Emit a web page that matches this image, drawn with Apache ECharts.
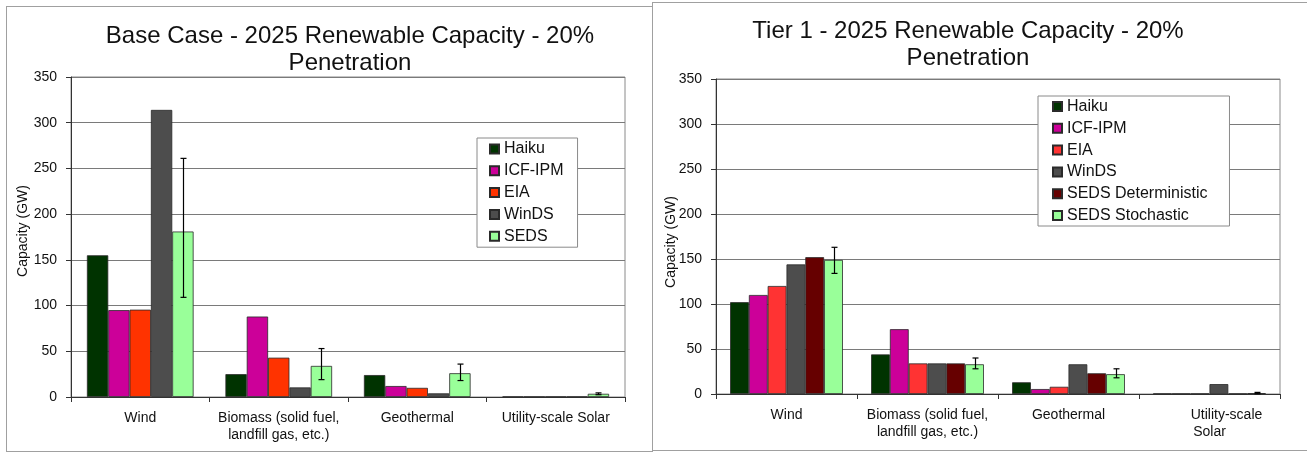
<!DOCTYPE html>
<html>
<head>
<meta charset="utf-8">
<script src="https://cdn.jsdelivr.net/npm/echarts@6/dist/echarts.min.js"></script>
<style>
html,body{margin:0;padding:0;width:1307px;height:454px;overflow:hidden;background:#fff;}
.frame{position:absolute;box-sizing:border-box;border:1px solid #a0a0a0;}
.chart{position:absolute;top:0;height:454px;}
</style>
</head>
<body>
<div class="frame" style="left:6px;top:6px;width:647px;height:446px;"></div>
<div class="frame" style="left:652px;top:2px;width:670px;height:449px;"></div>
<div id="c1" class="chart" style="left:0;width:652px;"></div>
<div id="c2" class="chart" style="left:652px;width:655px;"></div>
<script>
// ---- Data ----
const categoriesBase = ['Wind', 'Biomass (solid fuel,\nlandfill gas, etc.)', 'Geothermal', 'Utility-scale Solar'];
const categoriesTier = ['Wind', 'Biomass (solid fuel,\nlandfill gas, etc.)', 'Geothermal', '{pad|Utility-scale}\nSolar'];
const yTicks = [0, 50, 100, 150, 200, 250, 300, 350];
const yAxisTitle = 'Capacity (GW)';

const seriesNamesBase = ['Haiku', 'ICF-IPM', 'EIA', 'WinDS', 'SEDS'];
const baseHaiku = [155, 25, 24, 0.4];
const baseICF = [95, 88, 12, 0.4];
const baseEIA = [95.5, 43, 10, 0.4];
const baseWinDS = [314, 10.5, 4, 0.4];
const baseSEDS = [181, 34, 26, 3.5];
const baseSEDSLow = [109, 19, 18, 2.5];
const baseSEDSHigh = [261, 53, 36, 4.5];

const seriesNamesTier = ['Haiku', 'ICF-IPM', 'EIA', 'WinDS', 'SEDS Deterministic', 'SEDS Stochastic'];
const tierHaiku = [102, 44, 13, 0.4];
const tierICF = [110, 72, 5.5, 0.4];
const tierEIA = [120, 34, 8, 0.4];
const tierWinDS = [144, 34, 33, 11];
const tierSEDSDet = [152, 34, 23, 0.4];
const tierSEDSSto = [149, 33, 22, 1];
const tierStoLow = [134, 28, 18, 0.3];
const tierStoHigh = [163, 40, 28, 1.8];

// ---- Styles ----
const FONT = '"Liberation Sans", Arial, sans-serif';
const colorsBase = ['#003300', '#CC0099', '#FF3300', '#4D4D4D', '#99FF99'];
const colorsTier = ['#003300', '#CC0099', '#FF3333', '#4D4D4D', '#660000', '#99FF99'];

function errRender(nBars, gapFrac, idx) {
  return function (params, api) {
    const cat = api.value(0), lo = api.value(1), hi = api.value(2);
    const pLo = api.coord([cat, lo]);
    const pHi = api.coord([cat, hi]);
    const band = api.size([1, 0])[0];
    const grp = band * (1 - gapFrac);
    const bw = grp / nBars;
    const x = Math.round(pLo[0] - grp / 2 + bw * (idx + 0.5)) + 0.5;
    const cap = 3;
    const st = { stroke: '#000', lineWidth: 1.2 };
    return {
      type: 'group',
      children: [
        { type: 'line', shape: { x1: x, y1: pHi[1], x2: x, y2: pLo[1] }, style: st },
        { type: 'line', shape: { x1: x - cap, y1: pHi[1], x2: x + cap, y2: pHi[1] }, style: st },
        { type: 'line', shape: { x1: x - cap, y1: pLo[1], x2: x + cap, y2: pLo[1] }, style: st }
      ]
    };
  };
}

function buildOption(cfg) {
  const series = cfg.names.map(function (n, i) {
    return {
      name: n, type: 'bar', data: cfg.values[i],
      barGap: 0, barCategoryGap: cfg.gap,
      itemStyle: { color: cfg.colors[i], borderColor: '#2a2a2a', borderWidth: 0.8 },
      emphasis: { disabled: true }, z: 2
    };
  });
  const errData = cfg.errLow.map(function (lo, i) { return [i, lo, cfg.errHigh[i]]; });
  series.push({
    type: 'custom', name: 'err', data: errData,
    renderItem: errRender(cfg.names.length, cfg.gapFrac, cfg.names.length - 1),
    encode: { x: 0, y: [1, 2] }, z: 5, silent: true
  });
  return {
    animation: false,
    textStyle: { fontFamily: FONT },
    graphic: [
      { type: 'text', x: cfg.titleX, y: cfg.titleY, style: { text: cfg.title1, font: '24px ' + FONT, fill: '#111', textAlign: 'center', textVerticalAlign: 'middle' } },
      { type: 'text', x: cfg.titleX, y: cfg.titleY + 27, style: { text: 'Penetration', font: '24px ' + FONT, fill: '#111', textAlign: 'center', textVerticalAlign: 'middle' } },
      { type: 'text', x: cfg.yNameX, y: cfg.yNameY, rotation: Math.PI / 2, style: { text: yAxisTitle, font: '14px ' + FONT, fill: '#111', textAlign: 'center', textVerticalAlign: 'middle' } }
    ],
    legend: {
      data: cfg.names, orient: 'vertical', left: cfg.legendLeft, top: cfg.legendTop,
      backgroundColor: '#fff', borderColor: '#8a8a8a', borderWidth: 1,
      padding: cfg.legendPad, itemWidth: 9, itemHeight: 9, itemGap: 5.8, itemTextGap: 4,
      icon: 'rect', selectedMode: false,
      textStyle: { fontSize: 16, lineHeight: 16, color: '#111', fontFamily: FONT }
    },
    grid: {
      left: cfg.grid[0], top: cfg.grid[1], width: cfg.grid[2], height: cfg.grid[3],
      show: true, borderColor: '#8a8a8a', borderWidth: 1, containLabel: false
    },
    xAxis: {
      type: 'category', data: cfg.categories,
      axisLine: { lineStyle: { color: '#333', width: 1 } },
      axisTick: { show: true, interval: 0, length: 5, lineStyle: { color: '#333' } },
      axisLabel: {
        interval: 0, color: '#111', fontSize: 14, margin: 13, lineHeight: 17, fontFamily: FONT,
        rich: { pad: { fontSize: 14, padding: [0, 0, 0, 34], fontFamily: FONT, color: '#111' } }
      }
    },
    yAxis: {
      type: 'value', min: yTicks[0], max: yTicks[yTicks.length - 1], interval: yTicks[1] - yTicks[0],
      axisLine: { show: true, lineStyle: { color: '#333', width: 1 } },
      axisTick: { show: true, length: 5, lineStyle: { color: '#333' } },
      axisLabel: { color: '#111', fontSize: 14, margin: 14, fontFamily: FONT },
      splitLine: { lineStyle: { color: '#7a7a7a', width: 1 } }
    },
    series: series
  };
}

const c1 = echarts.init(document.getElementById('c1'));
c1.setOption(buildOption({
  names: seriesNamesBase,
  values: [baseHaiku, baseICF, baseEIA, baseWinDS, baseSEDS],
  colors: colorsBase,
  errLow: baseSEDSLow, errHigh: baseSEDSHigh,
  categories: categoriesBase,
  gap: '23%', gapFrac: 0.23,
  grid: [71, 77, 554, 320],
  title1: 'Base Case - 2025 Renewable Capacity - 20%', titleX: 350, titleY: 36,
  legendLeft: 477, legendTop: 138, legendPad: [3, 14, 3, 12],
  yNameX: 23, yNameY: 231
}));

const c2 = echarts.init(document.getElementById('c2'));
c2.setOption(buildOption({
  names: seriesNamesTier,
  values: [tierHaiku, tierICF, tierEIA, tierWinDS, tierSEDSDet, tierSEDSSto],
  colors: colorsTier,
  errLow: tierStoLow, errHigh: tierStoHigh,
  categories: categoriesTier,
  gap: '20%', gapFrac: 0.20,
  grid: [64, 79, 564, 315],
  title1: 'Tier 1 - 2025 Renewable Capacity - 20%', titleX: 316, titleY: 31,
  legendLeft: 386, legendTop: 96, legendPad: [2.5, 22, 2.5, 14],
  yNameX: 19, yNameY: 242
}));
</script>
</body>
</html>
